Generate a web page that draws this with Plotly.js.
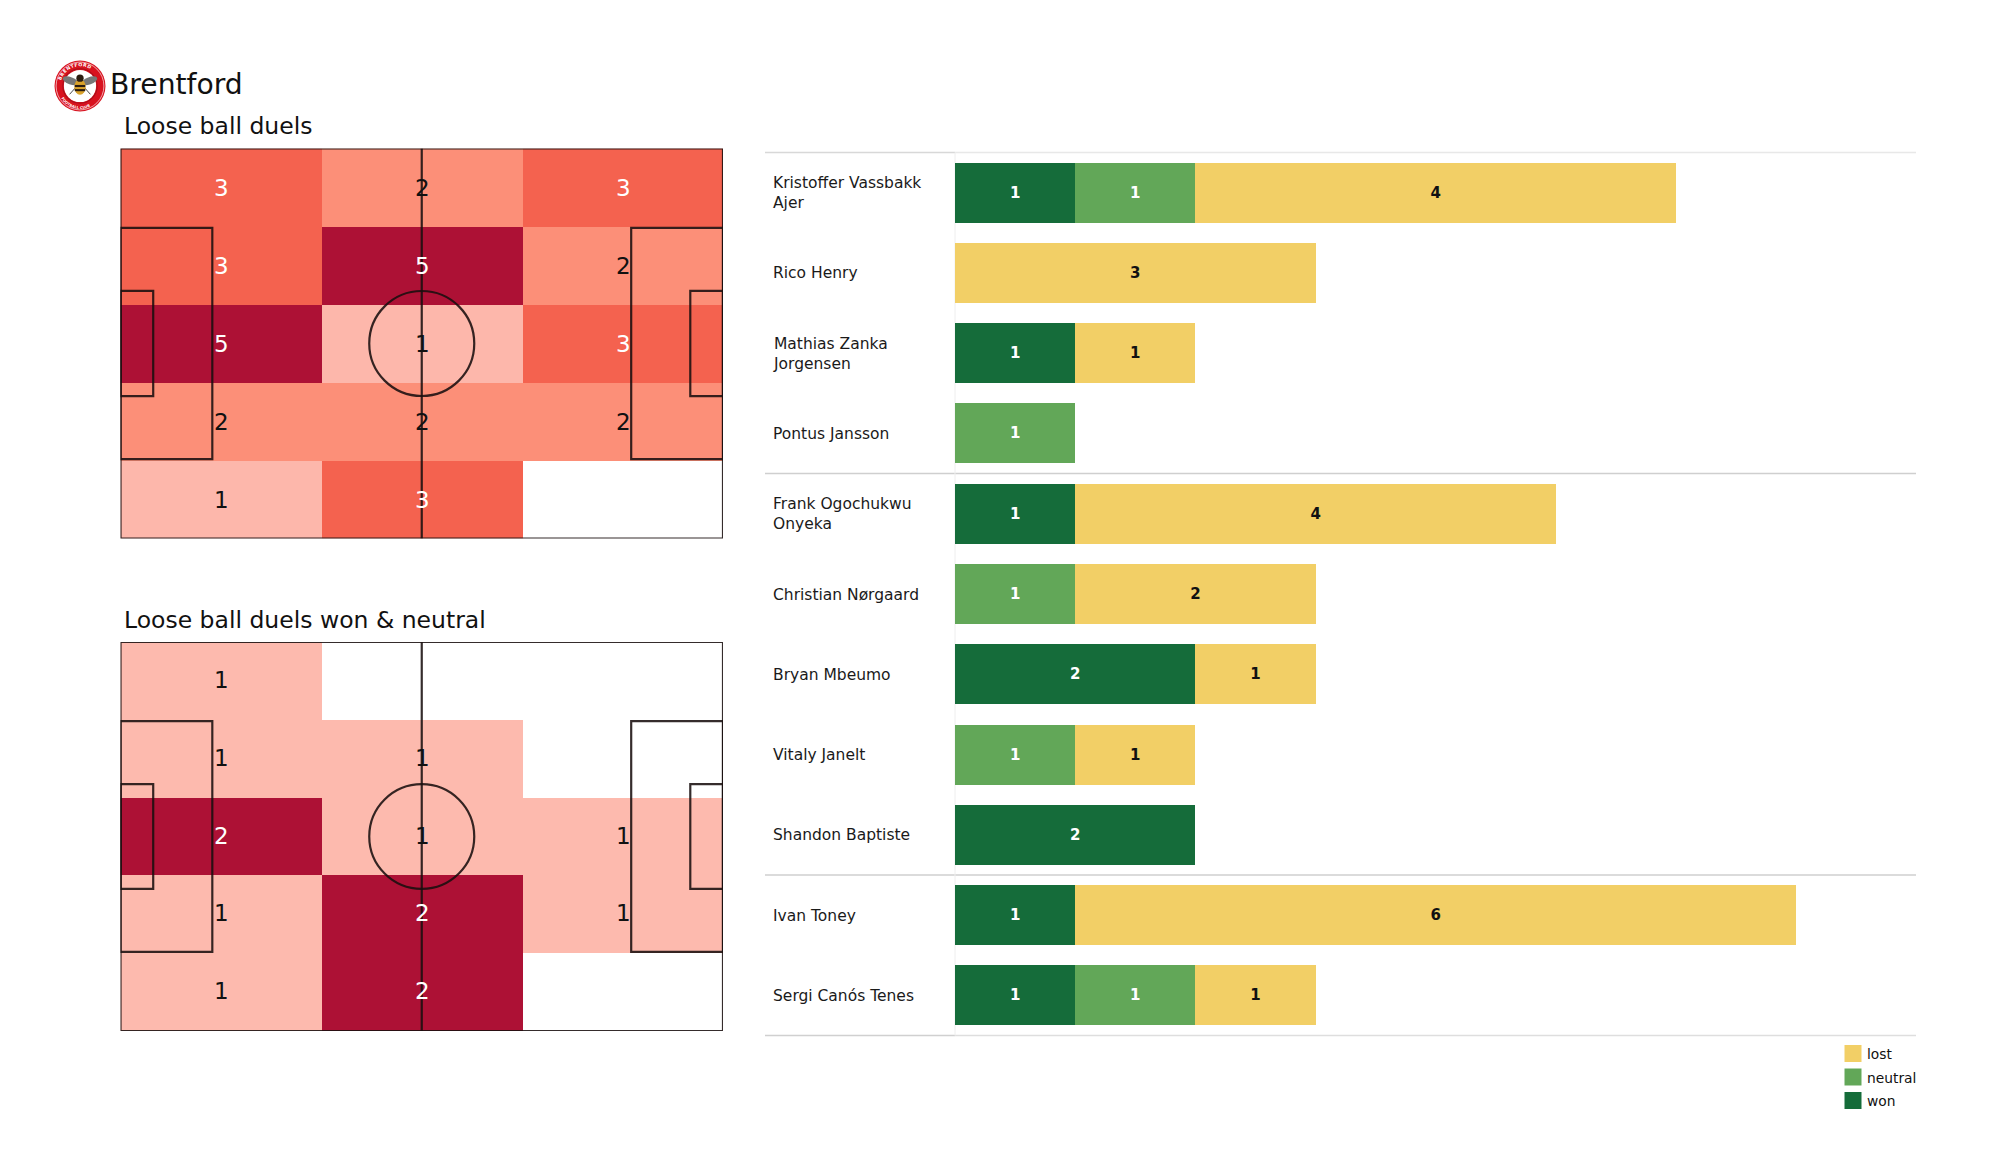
<!DOCTYPE html>
<html><head><meta charset="utf-8">
<script src="https://cdn.plot.ly/plotly-3.0.1.min.js"></script>
<style>html,body{margin:0;padding:0;background:#fff}#c{width:2000px;height:1175px}</style>
</head><body><div id="c"></div>
<script>
// ---- data ----
const teamName = "Brentford";
const pitchTitleAll = "Loose ball duels";
const pitchTitleWon = "Loose ball duels won & neutral";
const zoneX = [17.5, 52.5, 87.5];
const zoneY = [6.8, 20.4, 34, 47.6, 61.2];
const duelsAll = [[3,2,3],[3,5,2],[5,1,3],[2,2,2],[1,3,0]];
const duelsWon = [[1,0,0],[1,1,0],[2,1,1],[1,2,1],[1,2,0]];
const players = ["Kristoffer Vassbakk<br>Ajer","Rico Henry","Mathias Zanka<br>Jorgensen","Pontus Jansson",
  "Frank Ogochukwu<br>Onyeka","Christian Nørgaard","Bryan Mbeumo","Vitaly Janelt","Shandon Baptiste","Ivan Toney","Sergi Canós Tenes"];
const won     = [1,null,1,null,1,null,2,null,2,1,1];
const neutral = [1,null,null,1,null,1,null,1,null,null,1];
const lost    = [4,3,1,null,4,2,1,1,null,6,1];
const legendLabels = ["lost","neutral","won"];
const colWon="#156C3A", colNeutral="#62A758", colLost="#F2CF66";
const legendColors=[colLost,colNeutral,colWon];
const scaleAll=[[0,"#ffffff"],[0.2,"#FDB7AB"],[0.4,"#FC8F78"],[0.6,"#F4624F"],[1,"#AD1135"]];
const scaleWon=[[0,"#ffffff"],[0.5,"#FDBAAE"],[1,"#AD1135"]];
const font="DejaVu Sans";
const W=2000,H=1175;
const px=v=>v/W, py=v=>1-v/H;

const common={type:"heatmap",x:zoneX,y:zoneY,showscale:false,hoverinfo:"z",xgap:0,ygap:0};
const traces=[
 Object.assign({},common,{z:duelsAll,zmin:0,zmax:5,colorscale:scaleAll,xaxis:"x",yaxis:"y"}),
 Object.assign({},common,{z:duelsWon,zmin:0,zmax:2,colorscale:scaleWon,xaxis:"x2",yaxis:"y2"})
];
[["won",won,colWon,"#fff"],["neutral",neutral,colNeutral,"#fff"],["lost",lost,colLost,"#111"]].forEach(s=>{
 traces.push({type:"bar",orientation:"h",name:s[0],y:players,x:s[1],xaxis:"x3",yaxis:"y3",
  marker:{color:s[2],line:{width:0}},text:s[1].map(v=>v===null?"":String(v)),textposition:"inside",insidetextanchor:"middle",
  textangle:0,constraintext:"none",insidetextfont:{family:font,size:15,color:s[3],weight:700},showlegend:false});
});

const shapes=[],annotations=[];
const line={color:"rgba(25,15,15,0.88)",width:2.2};
function pitch(xr,yr){
 const add=(type,x0,y0,x1,y1)=>shapes.push({type,xref:xr,yref:yr,x0,y0,x1,y1,line,layer:"above",fillcolor:"rgba(0,0,0,0)"});
 add("rect",0,0,105,68);
 add("line",52.5,0,52.5,68);
 add("rect",0,13.84,16,54.16);
 add("rect",89,13.84,105,54.16);
 add("rect",0,24.84,5.7,43.16);
 add("rect",99.3,24.84,105,43.16);
 add("circle",43.35,24.85,61.65,43.15);
}
pitch("x","y");pitch("x2","y2");

function counts(z,xr,yr,hi,ys){
 z.forEach((row,r)=>row.forEach((v,c)=>{ if(!v)return;
  annotations.push({xref:xr,yref:yr,x:zoneX[c],y:zoneY[r],text:String(v),showarrow:false,xanchor:"center",yanchor:"middle",xshift:1,yshift:ys,
   font:{family:font,size:23,color:v>=hi?"#fff":"#111"}});
 }));
}
counts(duelsAll,"x","y",3,0);counts(duelsWon,"x2","y2",2,1);

function label(x,y,text,size,anchor){
 annotations.push({xref:"paper",yref:"paper",x:px(x),y:py(y),text,showarrow:false,xanchor:anchor||"left",yanchor:"middle",align:"left",
  font:{family:font,size,color:"#111"},borderpad:0,borderwidth:0});
}
label(109.5,84,teamName,28.2);
label(123.5,126,pitchTitleAll,23.5);
label(123.5,620,pitchTitleWon,23.5);
players.forEach(p=>annotations.push({xref:"paper",yref:"y3",x:px(771),y:p,text:p,showarrow:false,xanchor:"left",yanchor:"middle",align:"left",yshift:-0.5,
  font:{family:font,size:15.5,color:"#1a1a1a"}}));

const hline=(y,x0,x1,c)=>shapes.push({type:"line",xref:"paper",yref:"paper",x0:px(x0),x1:px(x1),y0:py(y),y1:py(y),line:{color:c,width:1.5},layer:"below"});
hline(152.5,955,1916,"#e8e8e8");hline(152.5,765,955,"#d8d8d8");
hline(473.6,765,1916,"#cfcfcf");hline(875,765,1916,"#cfcfcf");
hline(1035.5,955,1916,"#dedede");hline(1035.5,765,955,"#d0d0d0");
shapes.push({type:"line",xref:"paper",yref:"paper",x0:px(955),x1:px(955),y0:py(152.5),y1:py(1035.5),line:{color:"#eeeeee",width:1},layer:"below"});

legendLabels.forEach((t,i)=>{
 const y=1045+i*23.5;
 shapes.push({type:"rect",xref:"paper",yref:"paper",x0:px(1844.5),x1:px(1861.5),y0:py(y),y1:py(y+17),fillcolor:legendColors[i],line:{width:0}});
 label(1866.5,y+9,t,13.8);
});

const logo=`<svg xmlns="http://www.w3.org/2000/svg" viewBox="0 0 100 100">
<circle cx="50" cy="50" r="49" fill="#d8121f"/><circle cx="50" cy="50" r="46" fill="none" stroke="#fff" stroke-width="1.2"/>
<circle cx="50" cy="50" r="31" fill="#fff"/><circle cx="50" cy="50" r="33" fill="none" stroke="#a80f1a" stroke-width="2"/>
<path id="a" d="M12 50a38 38 0 0 1 76 0" fill="none"/><text font-family="DejaVu Sans" font-weight="700" font-size="9" fill="#fff" letter-spacing="1"><textPath href="#a" startOffset="9%">BRENTFORD</textPath></text>
<path id="b" d="M8 52a42 42 0 0 0 84 0" fill="none"/><text font-family="DejaVu Sans" font-weight="700" font-size="7" fill="#fff"><textPath href="#b" startOffset="17%">FOOTBALL CLUB</textPath></text>
<ellipse cx="32" cy="40" rx="16" ry="7" fill="#777" transform="rotate(20 32 40)"/><ellipse cx="68" cy="40" rx="16" ry="7" fill="#777" transform="rotate(-20 68 40)"/>
<path d="M30 66L46 48M70 66L54 48" stroke="#222" stroke-width="1.6"/>
<ellipse cx="50" cy="52" rx="11" ry="15" fill="#d9a22b"/><rect x="40" y="48" width="20" height="4" fill="#2a1c10"/><rect x="40" y="56" width="20" height="4" fill="#2a1c10"/>
<circle cx="50" cy="35" r="7" fill="#2a1c10"/></svg>`;

const layout={width:W,height:H,margin:{l:0,r:0,t:0,b:0},paper_bgcolor:"#fff",plot_bgcolor:"rgba(0,0,0,0)",showlegend:false,
 font:{family:font},barmode:"stack",bargap:0.2526,
 xaxis:{domain:[px(120.5),px(723)],range:[0,105],visible:false,fixedrange:true},
 yaxis:{domain:[py(538.5),py(148.5)],range:[68,0],visible:false,fixedrange:true},
 xaxis2:{domain:[px(120.5),px(723)],range:[0,105],visible:false,anchor:"y2",fixedrange:true},
 yaxis2:{domain:[py(1031),py(642)],range:[68,0],visible:false,anchor:"x2",fixedrange:true},
 xaxis3:{domain:[px(955),px(1916)],range:[0,961/120.2],visible:false,anchor:"y3",fixedrange:true},
 yaxis3:{domain:[py(1035.5),py(152.5)],type:"category",categoryorder:"array",categoryarray:players,range:[10.5,-0.5],visible:false,anchor:"x3",fixedrange:true},
 shapes,annotations,
 images:[{source:"data:image/svg+xml;charset=utf-8,"+encodeURIComponent(logo),xref:"paper",yref:"paper",x:px(54),y:py(60),sizex:px(52),sizey:52/H,xanchor:"left",yanchor:"top",sizing:"contain",layer:"above"}]
};
Plotly.newPlot("c",traces,layout,{displayModeBar:false,staticPlot:true});
</script></body></html>
